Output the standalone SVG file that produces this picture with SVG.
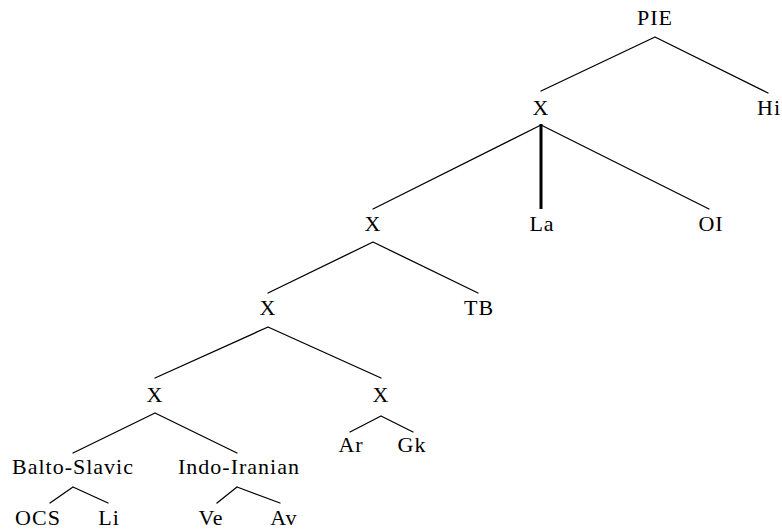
<svg xmlns="http://www.w3.org/2000/svg" width="782" height="531" viewBox="0 0 782 531">
<style>
text{font-family:'Liberation Serif','Times New Roman',serif;font-size:22px;fill:#000;text-anchor:middle;letter-spacing:1px}
.e{stroke:#000;stroke-width:1.3;fill:none;stroke-linecap:round}
.t{stroke:#000;stroke-width:3;fill:none}
</style>
<rect width="782" height="531" fill="#fff"/>
<g id="connectors">
<path class="e" d="M655,37 L541,91 M655,37 L768,93"/>
<path class="e" d="M541,125 L373,209 M541,125 L709,209"/>
<path class="t" d="M541,124 L541,209"/>
<path class="e" d="M373,242 L268,293 M373,242 L478,293"/>
<path class="e" d="M268,327 L155,378 M268,327 L381,378"/>
<path class="e" d="M155,413 L73,453 M155,413 L237,453"/>
<path class="e" d="M381,416 L350,432 M381,416 L413,432"/>
<path class="e" d="M73,487 L50,503 M73,487 L108,503"/>
<path class="e" d="M237,487 L217,503 M237,487 L280,503"/>
</g>
<g id="PIE"><text x="655" y="25">PIE</text></g>
<g id="X1"><text x="541" y="115">X</text></g>
<g id="Hi"><text x="769" y="115">Hi</text></g>
<g id="X2"><text x="373" y="231">X</text></g>
<g id="La"><text x="542" y="231">La</text></g>
<g id="OI"><text x="711" y="231">OI</text></g>
<g id="X3"><text x="268" y="315">X</text></g>
<g id="TB"><text x="479" y="315">TB</text></g>
<g id="X4"><text x="155" y="402">X</text></g>
<g id="X5"><text x="381" y="402">X</text></g>
<g id="Ar"><text x="351" y="452">Ar</text></g>
<g id="Gk"><text x="412" y="452">Gk</text></g>
<g id="BaltoSlavic"><text x="73" y="474">Balto-Slavic</text></g>
<g id="IndoIranian"><text x="239" y="474">Indo-Iranian</text></g>
<g id="OCS"><text x="38" y="525">OCS</text></g>
<g id="Li"><text x="109" y="525">Li</text></g>
<g id="Ve"><text x="211" y="525">Ve</text></g>
<g id="Av"><text x="284" y="525">Av</text></g>
</svg>
